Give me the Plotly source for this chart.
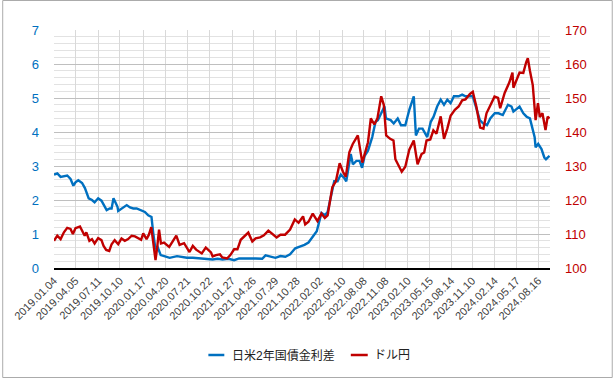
import plotly.graph_objects as go

# ---- tick labels (category-like quarterly ticks) ----
tick_dates = ["2019-01-04", "2019-04-05", "2019-07-11", "2019-10-10", "2020-01-17", "2020-04-20",
              "2020-07-21", "2020-10-22", "2021-01-27", "2021-04-26", "2021-07-29", "2021-10-28",
              "2022-02-02", "2022-05-10", "2022-08-08", "2022-11-08", "2023-02-10", "2023-05-15",
              "2023-08-14", "2023-11-10", "2024-02-14", "2024-05-17", "2024-08-16"]
tick_labels = [d.replace("-", ".") for d in tick_dates]

series_names = ["日米2年国債金利差", "ドル円"]

# ---- 日米2年国債金利差 (left axis, %) ----
spread_dates = [
    "2019-01-04", "2019-01-18", "2019-02-01", "2019-02-15", "2019-03-01", "2019-03-15", "2019-03-27",
    "2019-04-05", "2019-04-17", "2019-05-03", "2019-05-15", "2019-05-31", "2019-06-14", "2019-06-25",
    "2019-07-10", "2019-07-24", "2019-08-02", "2019-08-15", "2019-08-28", "2019-09-05", "2019-09-13",
    "2019-09-30", "2019-10-03", "2019-10-18", "2019-11-08", "2019-11-22", "2019-12-06", "2019-12-20",
    "2020-01-08", "2020-01-24", "2020-02-07", "2020-02-21", "2020-02-28", "2020-03-09", "2020-03-18",
    "2020-03-31", "2020-04-15", "2020-05-08", "2020-06-08", "2020-06-26", "2020-07-20", "2020-08-14",
    "2020-09-15", "2020-10-15", "2020-11-06", "2020-11-27", "2020-12-18", "2021-01-12", "2021-02-05",
    "2021-02-26", "2021-03-19", "2021-04-09", "2021-05-07", "2021-06-04", "2021-06-18", "2021-07-09",
    "2021-07-30", "2021-08-20", "2021-09-10", "2021-09-30", "2021-10-22", "2021-11-10", "2021-11-30",
    "2021-12-17", "2022-01-07", "2022-01-21", "2022-02-10", "2022-02-24", "2022-03-08", "2022-03-22",
    "2022-04-05", "2022-04-19", "2022-05-03", "2022-05-17", "2022-05-26", "2022-06-14", "2022-06-23",
    "2022-07-08", "2022-07-21", "2022-08-01", "2022-08-12", "2022-08-26", "2022-09-13", "2022-09-27",
    "2022-10-07", "2022-10-21", "2022-11-04", "2022-11-10", "2022-11-30", "2022-12-13", "2022-12-30",
    "2023-01-13", "2023-01-31", "2023-02-17", "2023-03-08", "2023-03-17", "2023-03-30", "2023-04-14",
    "2023-05-04", "2023-05-19", "2023-05-31", "2023-06-15", "2023-06-30", "2023-07-14", "2023-07-28",
    "2023-08-11", "2023-08-25", "2023-09-14", "2023-09-29", "2023-10-13", "2023-10-31", "2023-11-13",
    "2023-11-28", "2023-12-13", "2023-12-27", "2024-01-12", "2024-01-26", "2024-02-14", "2024-03-01",
    "2024-03-19", "2024-04-10", "2024-04-25", "2024-05-03", "2024-05-29", "2024-06-14", "2024-06-28",
    "2024-07-12", "2024-07-26", "2024-08-01", "2024-08-05", "2024-08-16", "2024-08-30", "2024-09-11",
    "2024-09-18", "2024-10-03"]
spread_vals = [
    2.75, 2.78, 2.68, 2.70, 2.72, 2.62, 2.42,
    2.52, 2.58, 2.50, 2.35, 2.05, 2.00, 1.93,
    2.05, 1.98, 1.85, 1.70, 1.75, 1.75, 2.05,
    1.80, 1.68, 1.75, 1.85, 1.78, 1.75, 1.75,
    1.70, 1.65, 1.55, 1.50, 1.05, 0.55, 0.62,
    0.38, 0.35, 0.30, 0.35, 0.32, 0.30, 0.30,
    0.28, 0.28, 0.25, 0.27, 0.25, 0.27, 0.23,
    0.28, 0.27, 0.28, 0.28, 0.27, 0.37, 0.33,
    0.30, 0.35, 0.33, 0.40, 0.58, 0.63, 0.68,
    0.75, 0.97, 1.08, 1.62, 1.55, 1.65, 2.10,
    2.55, 2.55, 2.75, 2.65, 2.55, 3.35, 3.05,
    3.15, 3.15, 2.95, 3.30, 3.45, 3.85, 4.30,
    4.35, 4.55, 4.75, 4.40, 4.35, 4.25, 4.40,
    4.20, 4.20, 4.65, 5.05, 3.90, 4.10, 4.10,
    3.85, 4.30, 4.45, 4.75, 4.95, 4.80, 4.95,
    4.85, 5.05, 5.05, 5.10, 5.05, 5.05, 5.05,
    4.70, 4.35, 4.25, 4.20, 4.40, 4.55, 4.55,
    4.50, 4.80, 4.75, 4.60, 4.75, 4.55, 4.45,
    4.40, 4.05, 3.85, 3.55, 3.65, 3.50, 3.25,
    3.20, 3.30]

# ---- ドル円 (right axis, yen) ----
usdjpy_dates = [
    "2019-01-04", "2019-01-18", "2019-02-01", "2019-02-15", "2019-03-01", "2019-03-15", "2019-03-25",
    "2019-04-05", "2019-04-24", "2019-05-03", "2019-05-14", "2019-05-21", "2019-06-03", "2019-06-14",
    "2019-06-25", "2019-07-10", "2019-07-24", "2019-08-02", "2019-08-13", "2019-08-26", "2019-09-05",
    "2019-09-18", "2019-10-03", "2019-10-17", "2019-10-31", "2019-11-14", "2019-11-29", "2019-12-13",
    "2019-12-31", "2020-01-08", "2020-01-17", "2020-01-31", "2020-02-10", "2020-02-20", "2020-02-28",
    "2020-03-09", "2020-03-16", "2020-03-24", "2020-04-01", "2020-04-14", "2020-05-06", "2020-05-20",
    "2020-06-05", "2020-06-19", "2020-07-08", "2020-07-31", "2020-08-14", "2020-08-28", "2020-09-21",
    "2020-10-08", "2020-10-30", "2020-11-06", "2020-11-20", "2020-12-07", "2020-12-17", "2021-01-06",
    "2021-01-20", "2021-02-05", "2021-02-19", "2021-03-05", "2021-03-26", "2021-04-06", "2021-04-23",
    "2021-05-07", "2021-05-26", "2021-06-11", "2021-06-30", "2021-07-16", "2021-08-04", "2021-08-20",
    "2021-09-09", "2021-09-30", "2021-10-20", "2021-11-05", "2021-11-24", "2021-12-03", "2021-12-17",
    "2022-01-04", "2022-01-24", "2022-02-10", "2022-02-24", "2022-03-08", "2022-03-28", "2022-04-12",
    "2022-04-28", "2022-05-12", "2022-05-24", "2022-06-08", "2022-06-22", "2022-07-14", "2022-08-02",
    "2022-08-12", "2022-08-26", "2022-09-07", "2022-09-22", "2022-10-05", "2022-10-21", "2022-11-01",
    "2022-11-11", "2022-11-28", "2022-12-12", "2022-12-20", "2023-01-16", "2023-01-31", "2023-02-17",
    "2023-03-08", "2023-03-24", "2023-04-10", "2023-04-21", "2023-05-01", "2023-05-17", "2023-05-30",
    "2023-06-12", "2023-06-30", "2023-07-14", "2023-07-28", "2023-08-11", "2023-08-29", "2023-09-14",
    "2023-09-29", "2023-10-13", "2023-11-01", "2023-11-13", "2023-11-28", "2023-12-14", "2023-12-28",
    "2024-01-10", "2024-01-24", "2024-02-13", "2024-02-28", "2024-03-08", "2024-03-27", "2024-04-16",
    "2024-04-29", "2024-05-03", "2024-05-29", "2024-06-14", "2024-06-26", "2024-07-03", "2024-07-12",
    "2024-07-24", "2024-08-05", "2024-08-15", "2024-08-23", "2024-09-03", "2024-09-16", "2024-09-25",
    "2024-10-03"]
usdjpy_vals = [
    108.0, 109.5, 108.5, 110.5, 111.8, 111.5, 110.0,
    111.7, 112.2, 111.0, 109.5, 110.5, 108.0, 108.5,
    107.2, 108.8, 108.2, 106.5, 105.3, 105.0, 107.0,
    108.2, 107.0, 108.7, 108.0, 108.5, 109.5, 109.3,
    108.7, 108.3, 110.2, 108.5, 109.8, 112.0, 107.8,
    102.3, 106.0, 111.3, 107.2, 107.5, 106.2, 107.8,
    109.5, 106.8, 107.3, 104.7, 106.5, 105.4, 104.3,
    106.0, 104.6, 103.4, 103.8, 104.0, 103.1, 102.8,
    103.8, 105.5, 105.5, 108.3, 109.7, 110.4, 107.8,
    108.7, 109.0, 109.6, 111.0, 110.0, 109.0, 109.8,
    109.8, 111.3, 114.3, 113.3, 115.2, 112.8, 113.6,
    116.0, 113.8, 116.0, 114.7, 115.5, 123.8, 125.5,
    130.8, 128.3, 126.8, 134.0, 136.4, 139.0, 131.0,
    133.5, 137.0, 144.0, 142.2, 144.0, 150.5, 148.0,
    139.0, 138.0, 137.5, 132.0, 128.3, 129.8, 134.8,
    137.5, 130.5, 133.5, 134.0, 137.5, 137.8, 140.5,
    139.5, 144.6, 138.0, 141.0, 144.8, 146.5, 147.5,
    149.3, 149.6, 151.2, 151.8, 147.5, 141.3, 141.0,
    145.5, 147.5, 150.4, 150.0, 147.0, 151.5, 154.6,
    157.5, 153.0, 157.5, 157.4, 160.5, 161.7, 158.0,
    153.8, 143.5, 148.5, 144.4, 145.5, 140.6, 144.5,
    144.0]

BLUE = "#0070C0"
RED = "#C00000"
FONT = "Liberation Sans, Arial, Noto Sans CJK JP, sans-serif"

fig = go.Figure()
fig.add_trace(go.Scatter(x=spread_dates, y=spread_vals, mode="lines", name=series_names[0],
                         line=dict(color=BLUE, width=2.4), yaxis="y"))
fig.add_trace(go.Scatter(x=usdjpy_dates, y=usdjpy_vals, mode="lines", name=series_names[1],
                         line=dict(color=RED, width=2.4), yaxis="y2"))

L, R, T, B = 52, 65, 30, 112
W, H = 615, 380
pw, ph = W - L - R, H - T - B


def px_x(p):
    return (p - L) / pw


def px_y(p):
    return (T + ph - p) / ph


fig.update_layout(
    width=W, height=H,
    margin=dict(l=L, r=R, t=T, b=B, pad=0),
    paper_bgcolor="white", plot_bgcolor="white",
    font=dict(family=FONT, size=12, color="#404040"),
    showlegend=False,
    xaxis=dict(type="date", range=["2019-01-04", "2024-10-05"],
               tickvals=tick_dates, ticktext=tick_labels, tickangle=-45,
               tickfont=dict(size=11, color="#404040"),
               showgrid=True, gridcolor="#d9d9d9", gridwidth=1,
               showline=True, linecolor="#000000", linewidth=2,
               ticks="", zeroline=False),
    yaxis=dict(range=[0, 7], dtick=1, tick0=0,
               tickfont=dict(size=13, color=BLUE),
               showgrid=True, gridcolor="#bfbfbf", gridwidth=1,
               minor=dict(dtick=0.2, showgrid=True, gridcolor="#e2e2e2", gridwidth=1),
               zeroline=False, showline=False, ticks="", ticklabelstandoff=14),
    yaxis2=dict(range=[100, 170], dtick=10, tick0=100, overlaying="y", side="right",
                tickfont=dict(size=13, color=RED),
                showgrid=False, zeroline=False, showline=False, ticks="",
                ticklabelstandoff=14),
)

# custom legend (sample line + label), placed like the reference
legend_items = [(series_names[0], BLUE, 207, 223, 229), (series_names[1], RED, 350, 367, 371)]
for name, col, lx0, lx1, tx in legend_items:
    fig.add_shape(type="line", xref="paper", yref="paper",
                  x0=px_x(lx0), x1=px_x(lx1), y0=px_y(355), y1=px_y(355),
                  line=dict(color=col, width=2.5))
    fig.add_annotation(xref="paper", yref="paper", x=px_x(tx), y=px_y(355),
                       text=name, showarrow=False, xanchor="left", yanchor="middle",
                       font=dict(family="Liberation Sans, Noto Sans CJK JP, sans-serif",
                                 size=12, color="#222222"))

# outer grey frame of the chart
fig.add_shape(type="rect", xref="paper", yref="paper",
              x0=px_x(0.5), x1=px_x(612.5), y0=px_y(377.5), y1=px_y(0.5),
              line=dict(color="#ababab", width=1), fillcolor="rgba(0,0,0,0)", layer="above")

fig.write_html("out.html")
